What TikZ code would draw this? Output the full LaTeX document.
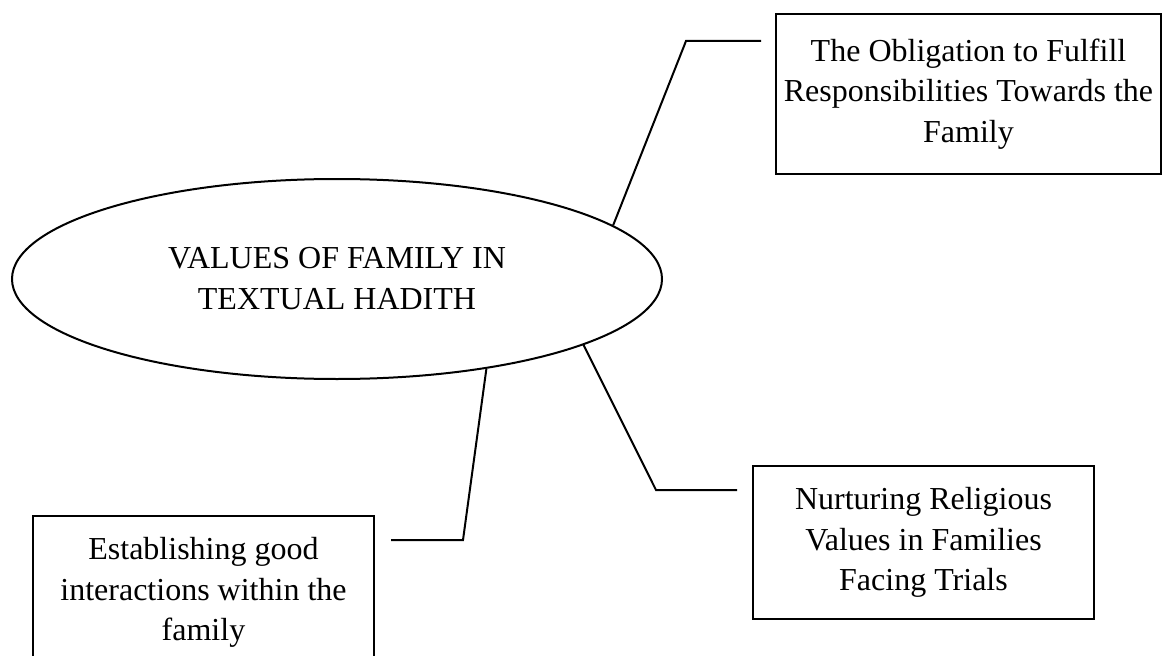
\documentclass[tikz,border=0pt]{standalone}
\usepackage{fontspec}
\setmainfont{Liberation Serif}
\usepackage{tikz}
\usetikzlibrary{shapes.geometric}

\begin{document}
\begin{tikzpicture}[
x=0.375pt, y=0.375pt, line width=0.75pt,
hub/.style={ellipse, draw, inner sep=0pt, minimum width=243.75pt, minimum height=75pt,
align=center, font=\fontsize{12}{15.4}\selectfont},
block/.style={rectangle, draw, inner sep=0pt, minimum width=127.9pt, minimum height=57.4pt,
align=center, font=\fontsize{12}{15.2}\selectfont}
]
\clip (0,0) rectangle (1164,655);

\node[hub] (values) at (337,376) {VALUES OF FAMILY IN\\TEXTUAL HADITH};
\node[block, minimum width=144.4pt, minimum height=60pt] (duty) at (968.5,561) {The Obligation to Fulfill\\Responsibilities Towards the\\Family};
\node[block] (nurture) at (923.5,112.5) {Nurturing Religious\\Values in Families\\Facing Trials};
\node[block] (interact) at (203.5,62.5) {Establishing good\\interactions within the\\family};

\coordinate (dutybend) at (686,614);
\coordinate (dutyend) at (761,614);
\coordinate (nurturebend) at (656,165);
\coordinate (nurtureend) at (737,165);
\coordinate (interactbend) at (463,115);
\coordinate (interactend) at (391,115);

\draw (values.11.6)--(dutybend)--(dutyend);
\draw (values.-15.8)--(nurturebend)--(nurtureend);
\draw (values.-31)--(interactbend)--(interactend);
\end{tikzpicture}
\end{document}
